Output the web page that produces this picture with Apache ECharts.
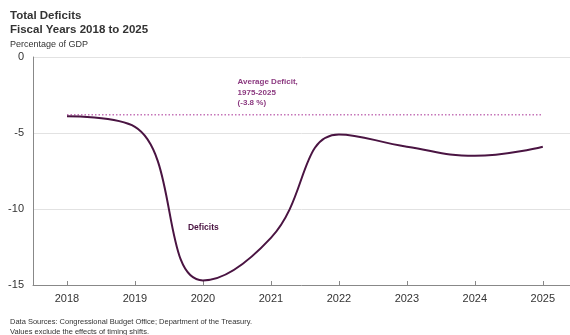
<!DOCTYPE html>
<html>
<head>
<meta charset="utf-8">
<script src="https://cdn.jsdelivr.net/npm/echarts@6/dist/echarts.min.js"></script>
<style>
  html, body { margin: 0; padding: 0; background: #fff; }
  #chart { width: 570px; height: 335px; }
</style>
</head>
<body>
<div id="chart"></div>
<script>
// fiscal years and total deficit (% of GDP)
const years = [2018, 2019, 2020, 2021, 2022, 2023, 2024, 2025]
const deficits = [-3.9, -4.6, -14.7, -11.9, -5.1, -5.9, -6.5, -5.9]
const avgDeficit = -3.8
const yTicks = [0, -5, -10, -15]

const font = 'Liberation Sans, Arial, sans-serif'
const chart = echarts.init(document.getElementById('chart'))

const option = {
  animation: false,
  textStyle: { fontFamily: font },
  graphic: [
    { type: 'text', left: 10, top: 10, style: { text: 'Total Deficits', font: 'bold 11.5px ' + font, fill: '#333' } },
    { type: 'text', left: 10, top: 24, style: { text: 'Fiscal Years 2018 to 2025', font: 'bold 11.5px ' + font, fill: '#333' } },
    { type: 'text', left: 10, top: 40, style: { text: 'Percentage of GDP', font: '9px ' + font, fill: '#333' } },
    { type: 'text', left: 10, top: 318, style: { text: 'Data Sources: Congressional Budget Office; Department of the Treasury.', font: '7.5px ' + font, fill: '#333' } },
    { type: 'text', left: 10, top: 328, style: { text: 'Values exclude the effects of timing shifts.', font: '7.5px ' + font, fill: '#333' } }
  ],
  grid: { left: 33, right: 0, top: 57, bottom: 50 },
  // x range ends past 2025 so the plot runs off the right edge like the original
  xAxis: {
    type: 'value',
    min: 2017.5,
    max: 2025.4,
    axisLine: { show: true, onZero: false, lineStyle: { color: '#888' } },
    axisTick: { show: true, inside: true, length: 4, customValues: years, lineStyle: { color: '#888' } },
    axisLabel: { color: '#333', fontSize: 11, margin: 8, customValues: years, formatter: v => String(v) },
    splitLine: { show: false }
  },
  yAxis: {
    type: 'value',
    min: yTicks[yTicks.length - 1],
    max: yTicks[0],
    interval: 5,
    axisLine: { show: true, lineStyle: { color: '#888' } },
    axisTick: { show: false },
    axisLabel: { color: '#333', fontSize: 11, margin: 9 },
    splitLine: { lineStyle: { color: '#e2e2e2' } }
  },
  series: [
    {
      type: 'line',
      data: [[years[0], avgDeficit], [years[years.length - 1], avgDeficit]],
      symbol: 'none',
      lineStyle: { color: '#c574b8', width: 1.5, type: [1.5, 2] },
      z: 1
    },
    {
      type: 'line',
      data: years.map((y, i) => [y, deficits[i]]),
      smooth: 0.45,
      symbol: 'none',
      lineStyle: { color: '#4a1442', width: 2 },
      z: 2
    }
  ]
}
chart.setOption(option)

// annotations placed from the axes
const p1 = chart.convertToPixel({ gridIndex: 0 }, [2020.51, -1.3])
const p2 = chart.convertToPixel({ gridIndex: 0 }, [2019.78, -10.9])
chart.setOption({
  graphic: option.graphic.concat([
    { type: 'text', x: p1[0], y: p1[1], style: { text: 'Average Deficit,\n1975-2025\n(-3.8 %)', font: 'bold 8px ' + font, fill: '#8c3a80', lineHeight: 10.5 } },
    { type: 'text', x: p2[0], y: p2[1], style: { text: 'Deficits', font: 'bold 8.5px ' + font, fill: '#4a1442' } }
  ])
})
</script>
</body>
</html>
